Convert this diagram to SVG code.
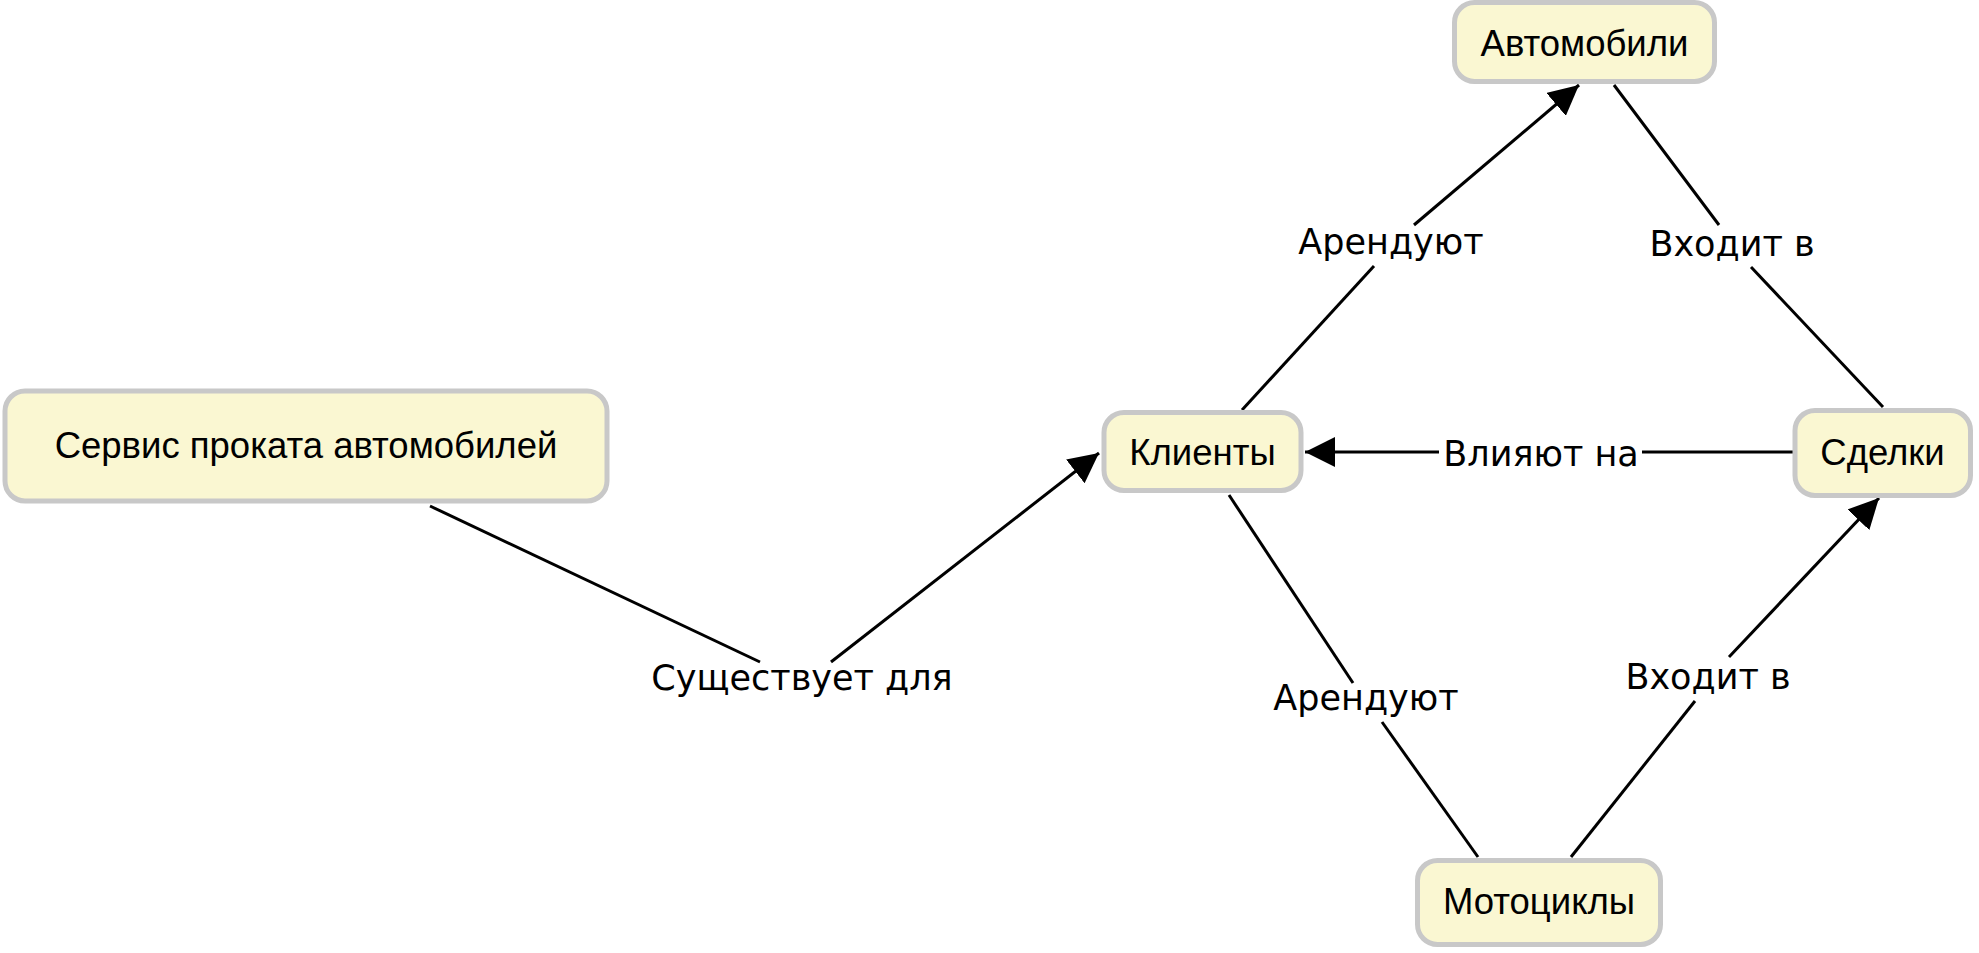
<svg xmlns="http://www.w3.org/2000/svg" width="1979" height="953" viewBox="0 0 1979 953">
<style>
.node rect{fill:#faf7d2;stroke:#c8c8c8;stroke-width:5}
.node text{font-family:"Liberation Sans",Arial,sans-serif;font-size:36.5px;fill:#000;text-anchor:middle}
.edges line{stroke:#000;stroke-width:3}
.lbl{font-family:"DejaVu Sans",Verdana,sans-serif;font-size:35px;fill:#000;text-anchor:middle}
</style>
<defs>
<marker id="arr" markerUnits="userSpaceOnUse" markerWidth="31" markerHeight="30" refX="30" refY="15" orient="auto">
<path d="M0,0 L30,15 L0,30 z" fill="#000"/>
</marker>
</defs>
<rect width="1979" height="953" fill="#fff"/>
<g class="edges">
<line x1="430" y1="506" x2="760" y2="662"/>
<line x1="831" y1="662" x2="1099" y2="453" marker-end="url(#arr)"/>
<text class="lbl" x="802" y="690">Существует для</text>
<line x1="1242" y1="410" x2="1374" y2="266"/>
<line x1="1414" y1="225" x2="1579" y2="85" marker-end="url(#arr)"/>
<text class="lbl" x="1391" y="254">Арендуют</text>
<line x1="1614" y1="85" x2="1719" y2="225"/>
<line x1="1751" y1="267" x2="1883" y2="407"/>
<text class="lbl" x="1732" y="256">Входит в</text>
<line x1="1793" y1="452" x2="1642" y2="452"/>
<line x1="1439" y1="452" x2="1305" y2="452" marker-end="url(#arr)"/>
<text class="lbl" x="1541" y="466">Влияют на</text>
<line x1="1229" y1="495" x2="1353" y2="683"/>
<line x1="1382" y1="722" x2="1478" y2="857"/>
<text class="lbl" x="1366" y="710">Арендуют</text>
<line x1="1571" y1="857" x2="1695" y2="701"/>
<line x1="1729" y1="657" x2="1879" y2="498" marker-end="url(#arr)"/>
<text class="lbl" x="1708" y="689">Входит в</text>
</g>
<g id="node-avto" class="node">
<rect x="1454.5" y="2.5" width="260" height="79" rx="20"/>
<text x="1584.5" y="56">Автомобили</text>
</g>
<g id="node-servis" class="node">
<rect x="5" y="391" width="602" height="110" rx="20"/>
<text x="306" y="458">Сервис проката автомобилей</text>
</g>
<g id="node-klienty" class="node">
<rect x="1104" y="412.5" width="197" height="78" rx="20"/>
<text x="1202.5" y="465">Клиенты</text>
</g>
<g id="node-sdelki" class="node">
<rect x="1795" y="410.5" width="175.5" height="85" rx="20"/>
<text x="1882.5" y="465">Сделки</text>
</g>
<g id="node-moto" class="node">
<rect x="1417.5" y="860.5" width="243" height="84" rx="20"/>
<text x="1539" y="914">Мотоциклы</text>
</g>
</svg>
